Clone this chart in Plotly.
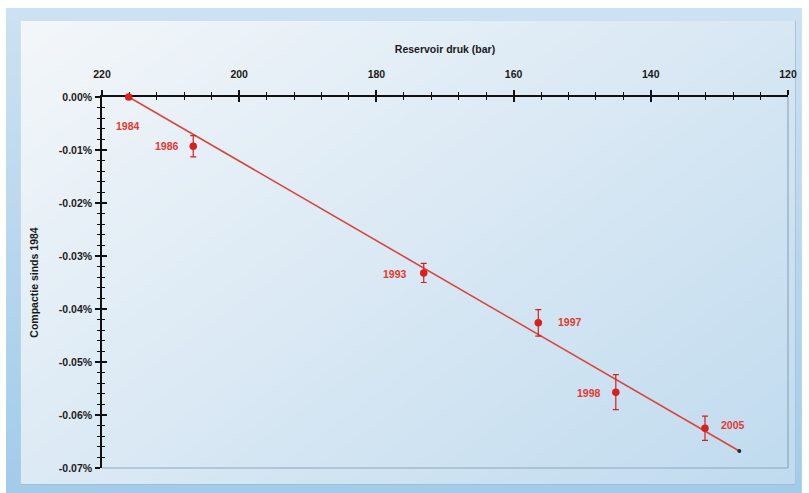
import base64
import struct
import zlib

import numpy as np
import plotly.graph_objects as go

# ---- data -------------------------------------------------------------
years = ["1984", "1986", "1993", "1997", "1998", "2005"]
pressure_bar = [216.1, 206.7, 173.1, 156.4, 145.1, 132.1]
compaction_pct = [0.0, -0.0093, -0.0332, -0.0426, -0.0557, -0.0625]
compaction_err = [0.0004, 0.0020, 0.0018, 0.0025, 0.0033, 0.0023]

trend_pressure = [216.1, 127.1]
trend_compaction = [0.0, -0.0668]

x_tick_vals = [220, 200, 180, 160, 140, 120]
y_tick_vals = [0.0, -0.01, -0.02, -0.03, -0.04, -0.05, -0.06, -0.07]
y_tick_text = ["0.00%", "-0.01%", "-0.02%", "-0.03%", "-0.04%", "-0.05%", "-0.06%", "-0.07%"]

# ---- figure geometry / style -----------------------------------------
W, H = 809, 493
M_L, M_R, M_T, M_B = 102, 14, 97, 25
RED = "#d8201c"
LABEL_RED = "#e4392e"
FONT = "Liberation Sans, Arial, sans-serif"
X_RANGE = [220, 120]
Y_RANGE = [-0.07, 0.0]

# pixel offsets of the year labels relative to their point
label_offsets = {
    "1984": (-1, -29),
    "1986": (-26, 0),
    "1993": (-29, -1),
    "1997": (32, 1),
    "1998": (-27, -1),
    "2005": (28, 3),
}


def png_data_uri(rgb):
    """Encode an HxWx3 uint8 array as a PNG data URI."""
    h, w, _ = rgb.shape
    raw = b"".join(b"\x00" + rgb[r].tobytes() for r in range(h))

    def chunk(tag, data):
        c = struct.pack(">I", len(data)) + tag + data
        return c + struct.pack(">I", zlib.crc32(tag + data) & 0xFFFFFFFF)

    png = b"\x89PNG\r\n\x1a\n"
    png += chunk(b"IHDR", struct.pack(">IIBBBBB", w, h, 8, 2, 0, 0, 0))
    png += chunk(b"IDAT", zlib.compress(raw, 9))
    png += chunk(b"IEND", b"")
    return "data:image/png;base64," + base64.b64encode(png).decode()


def backdrop():
    yy, xx = np.mgrid[0:H, 0:W].astype(float)
    img = np.full((H, W, 3), 255.0)

    # outer blue frame
    t = np.clip((yy - 8) / (H - 8), 0, 1)[..., None]
    top, bot = np.array([205, 226, 242]), np.array([163, 204, 234])
    frame = top * (1 - t) + bot * t
    outer = (xx >= 5) & (yy >= 8)
    img[outer] = frame[outer]

    # inner panel with a diagonal light-to-blue gradient
    x0, x1, y0, y1 = 20, 802, 21, 484
    u = np.clip(((xx - x0) / (x1 - x0)) * 0.55 + ((yy - y0) / (y1 - y0)) * 0.45, 0, 1)[..., None]
    c0, c1 = np.array([244, 247, 250]), np.array([192, 219, 239])
    panel = c0 * (1 - u) + c1 * u
    inner = (xx >= x0) & (xx <= x1) & (yy >= y0) & (yy <= y1)
    img[inner] = panel[inner]
    # soft shadow edge along bottom/right of the panel
    img[(yy == y1) & (xx >= x0) & (xx <= x1)] = [160, 190, 212]
    img[(xx == x1) & (yy >= y0) & (yy <= y1)] = [170, 198, 220]
    return np.clip(img, 0, 255).astype(np.uint8)


fig = go.Figure()

# fitted trend line
fig.add_trace(go.Scatter(
    x=trend_pressure, y=trend_compaction, mode="lines",
    line=dict(color="#d9463c", width=1.6), hoverinfo="skip", showlegend=False,
))
# end point of the trend line
fig.add_trace(go.Scatter(
    x=trend_pressure[-1:], y=trend_compaction[-1:], mode="markers",
    marker=dict(color="#1f2a44", size=4), hoverinfo="skip", showlegend=False,
))
# measurements with error bars
fig.add_trace(go.Scatter(
    x=pressure_bar, y=compaction_pct, mode="markers", cliponaxis=False,
    marker=dict(color=RED, size=7.5, symbol="circle"),
    error_y=dict(type="data", array=compaction_err, color=RED, thickness=1.2, width=3),
    text=years, showlegend=False,
))
# invisible trace that carries the inward tick marks of the overlay axes
fig.add_trace(go.Scatter(
    x=X_RANGE, y=Y_RANGE, xaxis="x2", yaxis="y2", mode="markers",
    marker=dict(opacity=0), hoverinfo="skip", showlegend=False,
))

for yr, xp, yp in zip(years, pressure_bar, compaction_pct):
    dx, dy = label_offsets[yr]
    fig.add_annotation(
        x=xp, y=yp, text=yr, showarrow=False, xshift=dx, yshift=dy,
        font=dict(family=FONT, size=10.5, color=LABEL_RED, weight="bold"),
    )

# right and bottom frame of the plot area
fig.add_shape(type="line", xref="paper", yref="paper", x0=1, x1=1, y0=0, y1=1,
              line=dict(color="#8ea8bd", width=1.2), layer="below")
fig.add_shape(type="line", xref="paper", yref="paper", x0=0, x1=1, y0=0, y1=0,
              line=dict(color="#8ea8bd", width=1.2), layer="below")

pw, ph = W - M_L - M_R, H - M_T - M_B
fig.add_layout_image(
    source=png_data_uri(backdrop()), xref="paper", yref="paper",
    x=-M_L / pw, y=1 + M_T / ph, sizex=W / pw, sizey=H / ph,
    xanchor="left", yanchor="top", sizing="stretch", layer="below",
)

tick_font = dict(family=FONT, size=10.5, color="#1a1a1a", weight="bold")
title_font = dict(family=FONT, size=10.5, color="#1a1a1a", weight="bold")
axis_ink = "#111"
fig.update_layout(
    width=W, height=H,
    margin=dict(l=M_L, r=M_R, t=M_T, b=M_B),
    paper_bgcolor="white", plot_bgcolor="rgba(0,0,0,0)",
    font=dict(family=FONT),
    xaxis=dict(
        side="top", range=X_RANGE, tickvals=x_tick_vals, layer="below traces",
        showline=True, linecolor=axis_ink, linewidth=1.6,
        ticks="outside", ticklen=5, tickwidth=1.6, tickcolor=axis_ink,
        minor=dict(dtick=4, ticks="outside", ticklen=3, tickwidth=1.3, tickcolor=axis_ink),
        showgrid=False, zeroline=False, tickfont=tick_font, ticklabelstandoff=8,
        title=dict(text="Reservoir druk (bar)", standoff=12, font=title_font),
    ),
    yaxis=dict(
        range=Y_RANGE, tickvals=y_tick_vals, ticktext=y_tick_text, layer="below traces",
        showline=True, linecolor=axis_ink, linewidth=1.6,
        ticks="outside", ticklen=5, tickwidth=1.6, tickcolor=axis_ink,
        minor=dict(dtick=0.002, tick0=0, ticks="outside", ticklen=3, tickwidth=1.3, tickcolor=axis_ink),
        showgrid=False, zeroline=False, tickfont=tick_font, ticklabelstandoff=1,
        title=dict(text="Compactie sinds 1984", standoff=18, font=title_font),
    ),
    xaxis2=dict(
        overlaying="x", matches="x", side="top", range=X_RANGE, tickvals=x_tick_vals,
        layer="below traces",
        ticks="inside", ticklen=5, tickwidth=1.6, tickcolor=axis_ink,
        minor=dict(dtick=4, ticks="inside", ticklen=3, tickwidth=1.3, tickcolor=axis_ink),
        showticklabels=False, showgrid=False, zeroline=False, showline=False,
    ),
    yaxis2=dict(
        overlaying="y", matches="y", side="left", range=Y_RANGE, tickvals=y_tick_vals,
        layer="below traces",
        ticks="inside", ticklen=5, tickwidth=1.6, tickcolor=axis_ink,
        minor=dict(dtick=0.002, tick0=0, ticks="inside", ticklen=3, tickwidth=1.3, tickcolor=axis_ink),
        showticklabels=False, showgrid=False, zeroline=False, showline=False,
    ),
)

fig.write_html("out.html")
